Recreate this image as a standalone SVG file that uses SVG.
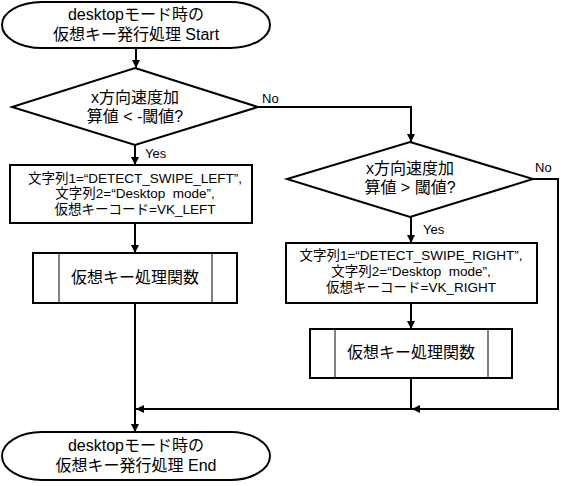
<svg xmlns="http://www.w3.org/2000/svg" width="562" height="486" viewBox="0 0 562 486">
<style>
.s{fill:#fff;stroke:#000;stroke-width:2}
.in{fill:none;stroke:#000;stroke-width:1}
.c{fill:none;stroke:#000;stroke-width:2}
text{font-family:"Liberation Sans","Noto Sans CJK JP",sans-serif;fill:#000;text-anchor:middle;white-space:pre}
.t16{font-size:16px}
.t13{font-size:13.5px}
.l{font-size:13px;text-anchor:start}
</style>
<defs>
<marker id="ah" viewBox="0 0 10 10" refX="10" refY="5" markerWidth="9" markerHeight="8" markerUnits="userSpaceOnUse" orient="auto">
<path d="M0,0 L10,5 L0,10 z" fill="#000"/>
</marker>
</defs>
<rect width="562" height="486" fill="#fff"/>
<g id="connectors">
<path class="c" d="M136,48 V68" marker-end="url(#ah)"/>
<path class="c" d="M135,145 V165" marker-end="url(#ah)"/>
<path class="c" d="M135,223 V253" marker-end="url(#ah)"/>
<path class="c" d="M135,303 V432" marker-end="url(#ah)"/>
<path class="c" d="M258,107 H411 V142" marker-end="url(#ah)"/>
<path class="c" d="M411,217 V243" marker-end="url(#ah)"/>
<path class="c" d="M411,303 V329" marker-end="url(#ah)"/>
<path class="c" d="M411,378 V409 H136" marker-end="url(#ah)"/>
<path class="c" d="M533,179 H558 V409 H412" marker-end="url(#ah)"/>
<text class="l" x="262" y="103">No</text>
<text class="l" x="145" y="158">Yes</text>
<text class="l" x="535" y="172">No</text>
<text class="l" x="423" y="234">Yes</text>
</g>
<g id="start">
<rect class="s" x="2" y="2" width="268" height="46" rx="40" ry="23"/>
<text class="t16" x="136" y="20">desktopモード時の</text>
<text class="t16" x="136" y="40">仮想キー発行処理 Start</text>
</g>
<g id="decision1">
<polygon class="s" points="135,68 258,107 135,145 12,107"/>
<text class="t16" x="135" y="103">x方向速度加</text>
<text class="t16" x="135" y="122">算値 &lt; -閾値?</text>
</g>
<g id="box1">
<rect class="s" x="10" y="165" width="242" height="58"/>
<text class="t13" x="135" y="183">文字列1=“DETECT_SWIPE_LEFT”,</text>
<text class="t13" x="135" y="198" xml:space="preserve">文字列2=“Desktop  mode”,</text>
<text class="t13" x="135" y="214">仮想キーコード=VK_LEFT</text>
</g>
<g id="proc1">
<rect class="s" x="33" y="253" width="204" height="50"/>
<line class="in" x1="59" y1="253" x2="59" y2="303"/>
<line class="in" x1="212" y1="253" x2="212" y2="303"/>
<text class="t16" x="135" y="283">仮想キー処理関数</text>
</g>
<g id="decision2">
<polygon class="s" points="410,142 533,179 410,217 287,179"/>
<text class="t16" x="410" y="174">x方向速度加</text>
<text class="t16" x="410" y="193">算値 &gt; 閾値?</text>
</g>
<g id="box2">
<rect class="s" x="286" y="243" width="251" height="60"/>
<text class="t13" x="411" y="260">文字列1=“DETECT_SWIPE_RIGHT”,</text>
<text class="t13" x="411" y="276" xml:space="preserve">文字列2=“Desktop  mode”,</text>
<text class="t13" x="411" y="292">仮想キーコード=VK_RIGHT</text>
</g>
<g id="proc2">
<rect class="s" x="310" y="329" width="202" height="49"/>
<line class="in" x1="335" y1="329" x2="335" y2="378"/>
<line class="in" x1="488" y1="329" x2="488" y2="378"/>
<text class="t16" x="411" y="358">仮想キー処理関数</text>
</g>
<g id="end">
<rect class="s" x="2" y="432" width="268" height="48" rx="40" ry="24"/>
<text class="t16" x="136" y="451">desktopモード時の</text>
<text class="t16" x="136" y="471">仮想キー発行処理 End</text>
</g>
</svg>
